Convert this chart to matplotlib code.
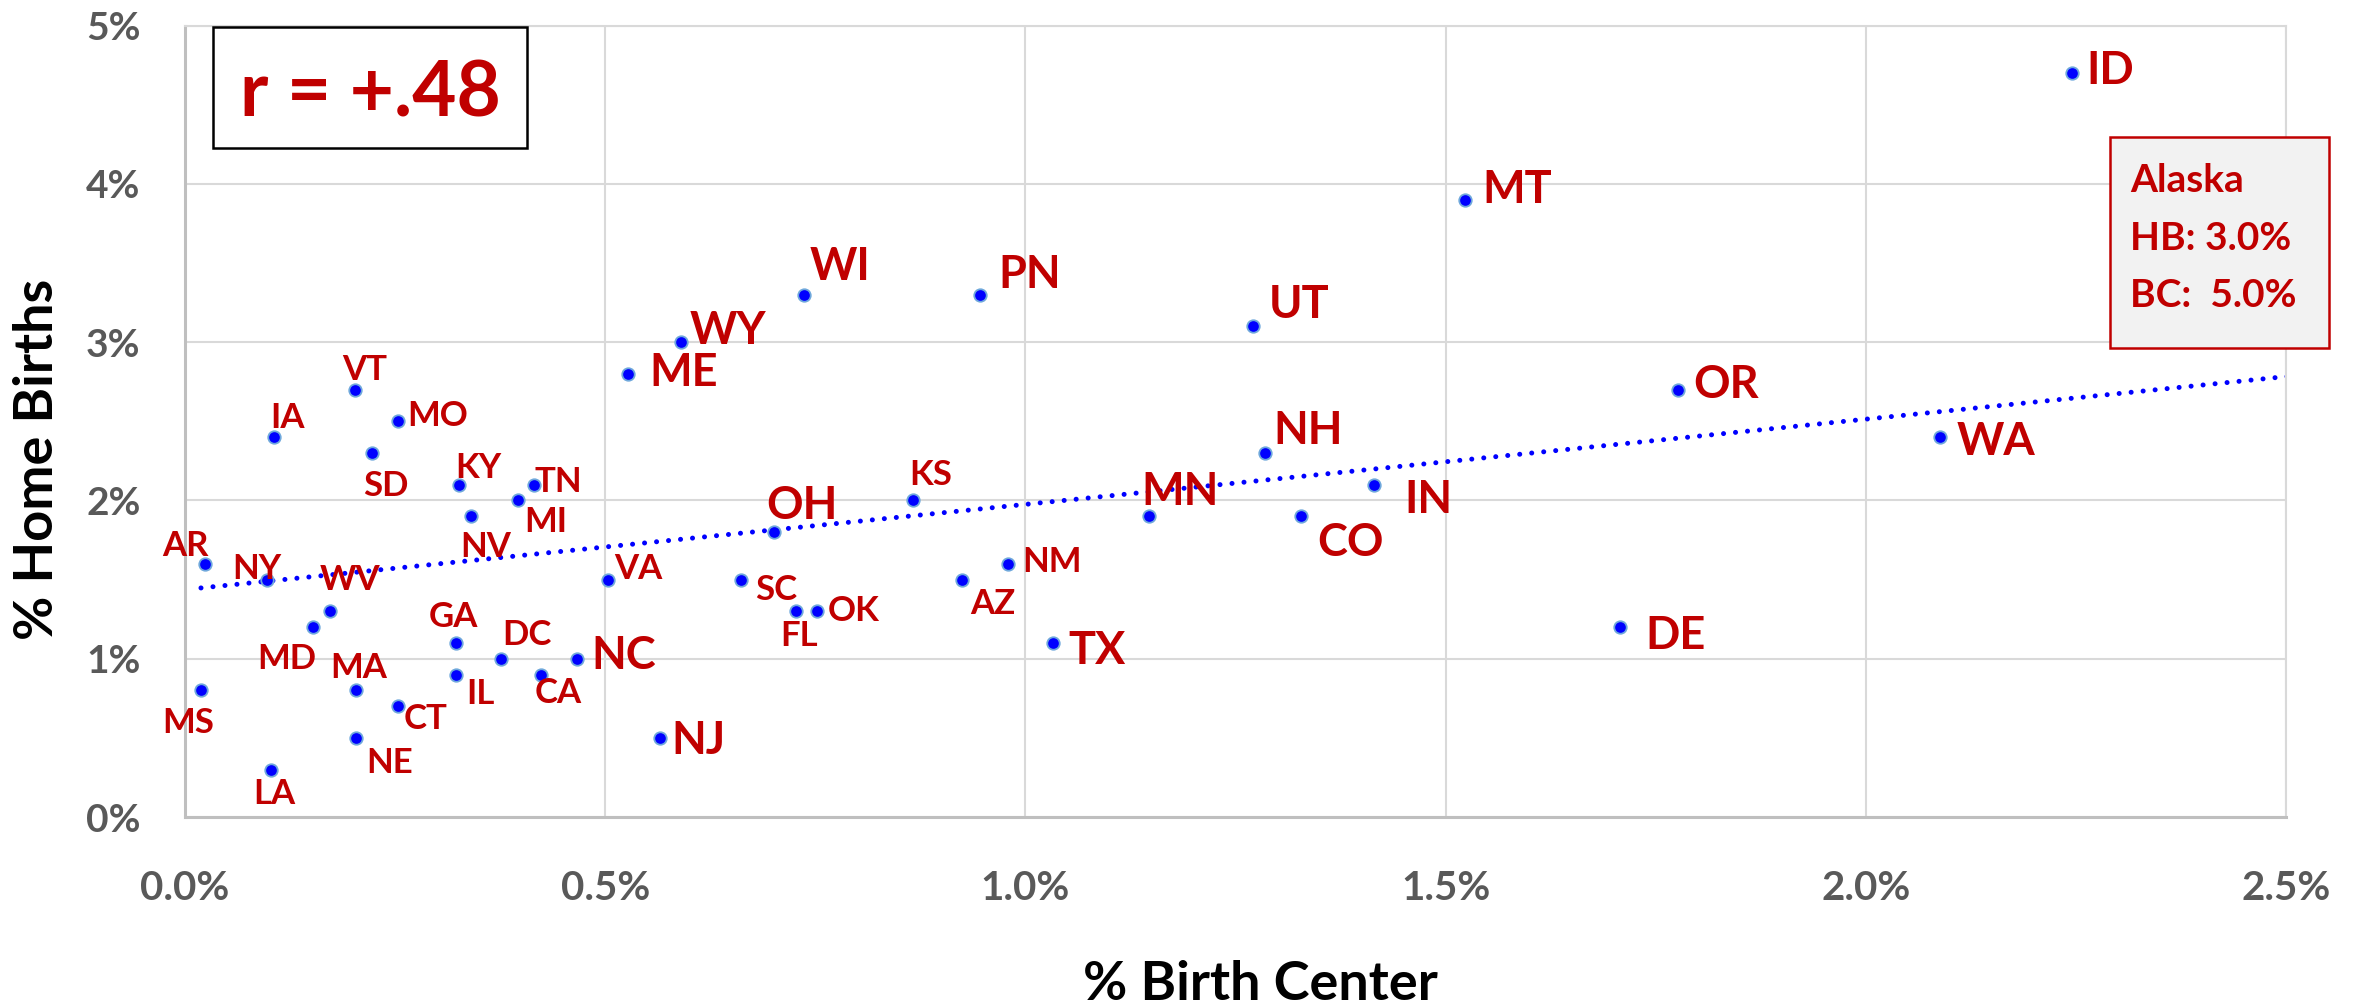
import numpy as np
import matplotlib
matplotlib.use("Agg")
import matplotlib.pyplot as plt
from matplotlib.patches import Rectangle

plt.rcParams['font.family'] = ['Lato', 'DejaVu Sans']

# ---------------- data ----------------
states = ["VT", "IA", "MO", "SD", "KY", "TN", "MI", "NV", "AR", "NY",
          "WV", "MD", "GA", "DC", "NC", "CA", "IL", "MA", "MS", "CT",
          "NE", "LA", "VA", "ME", "NJ", "WI", "PN", "UT", "WY", "OH",
          "KS", "MN", "NH", "CO", "IN", "NM", "AZ", "SC", "FL", "OK",
          "TX", "MT", "OR", "WA", "DE", "ID", "AK"]
birth_center = [0.202, 0.106, 0.254, 0.223, 0.326, 0.415, 0.396, 0.340, 0.024, 0.097,
                0.173, 0.152, 0.322, 0.376, 0.466, 0.424, 0.322, 0.203, 0.019, 0.254,
                0.204, 0.102, 0.503, 0.527, 0.565, 0.736, 0.946, 1.271, 0.590, 0.701,
                0.866, 1.147, 1.285, 1.328, 1.415, 0.979, 0.925, 0.661, 0.727, 0.752,
                1.033, 1.523, 1.776, 2.088, 1.708, 2.245, 5.0]
home_births = [2.7, 2.4, 2.5, 2.3, 2.1, 2.1, 2.0, 1.9, 1.6, 1.5,
               1.3, 1.2, 1.1, 1.0, 1.0, 0.9, 0.9, 0.8, 0.8, 0.7,
               0.5, 0.3, 1.5, 2.8, 0.5, 3.3, 3.3, 3.1, 3.0, 1.8,
               2.0, 1.9, 2.3, 1.9, 2.1, 1.6, 1.5, 1.5, 1.3, 1.3,
               1.1, 3.9, 2.7, 2.4, 1.2, 4.7, 3.0]
x_ticks = [0.0, 0.5, 1.0, 1.5, 2.0, 2.5]
y_ticks = [0, 1, 2, 3, 4, 5]
r_text = "r = +.48"
alaska_lines = ["Alaska", "HB: 3.0%", "BC:  5.0%"]

# ---------------- label styling (pixel offsets from the marker) ----------------
big = {"ME", "WY", "WI", "PN", "UT", "MT", "ID", "OR", "WA", "NH", "MN",
       "IN", "CO", "DE", "TX", "NC", "NJ", "OH"}
offsets = {
    "VT": (-13, 10), "IA": (-4, 9), "MO": (9, -5), "SD": (-9, -43),
    "KY": (-4, 7), "TN": (1, -7), "MI": (6, -32), "NV": (-10, -41),
    "AR": (-43, 8), "NY": (-34, 1), "WV": (-11, 21), "MD": (-55, -42),
    "GA": (-27, 16), "DC": (1, 14), "NC": (15, -10), "CA": (-7, -28),
    "IL": (11, -29), "MA": (-25, 12), "MS": (-39, -43), "CT": (5, -23),
    "NE": (10, -35), "LA": (-17, -34), "VA": (6, 1), "ME": (21, -12),
    "NJ": (12, -16), "WI": (6, 15), "PN": (18, 7), "UT": (16, 8),
    "WY": (9, -2), "OH": (-8, 13), "KS": (-4, 15), "MN": (-8, 11),
    "NH": (8, 9), "CO": (16, -40), "IN": (30, -28), "NM": (14, -8),
    "AZ": (8, -34), "SC": (15, -20), "FL": (-16, -35), "OK": (11, -10),
    "TX": (15, -21), "MT": (17, -3), "OR": (16, -8), "WA": (17, -18),
    "DE": (25, -22), "ID": (15, -11),
}

W, H, DPI = 2364, 1008, 100
RED = "#C00000"
GRAY = "#595959"
px = 72.0 / DPI

fig = plt.figure(figsize=(W / DPI, H / DPI), dpi=DPI)
left, right, top, bottom = 185, 2286, 25.7, 817
ax = fig.add_axes([left / W, 1 - bottom / H, (right - left) / W, (bottom - top) / H])
ax.set_xlim(0, 2.5)
ax.set_ylim(0, 5)

ax.set_xticks(x_ticks)
ax.set_xticklabels([f"{t:.1f}%" for t in x_ticks])
ax.set_yticks(y_ticks)
ax.set_yticklabels([f"{t:d}%" for t in y_ticks])
ax.tick_params(axis='both', length=0, labelcolor=GRAY)
ax.tick_params(axis='x', pad=38, labelsize=29)
ax.tick_params(axis='y', pad=32, labelsize=28)
for lab in ax.get_xticklabels() + ax.get_yticklabels():
    lab.set_fontweight('bold')

ax.grid(True, color="#D9D9D9", lw=1.5, zorder=0)
ax.set_axisbelow(True)
for s in ["top", "right"]:
    ax.spines[s].set_color("#D9D9D9")
    ax.spines[s].set_linewidth(1.5)
for s in ["left", "bottom"]:
    ax.spines[s].set_color("#BFBFBF")
    ax.spines[s].set_linewidth(2.2)

bc = np.array(birth_center)
hb = np.array(home_births)

# trend line (least squares on all states incl. Alaska, clipped at the axis)
m, b = np.polyfit(bc, hb, 1)
xs = np.array([bc.min(), bc.max()])
ax.plot(xs, m * xs + b, color="#0000FF", lw=3.6,
        linestyle=(0, (0.01, 2.4)), dash_capstyle='round', zorder=2)

ax.scatter(bc, hb, s=(12.5 * px) ** 2, c="#0000FF", edgecolors="#6FA8DC",
           linewidths=1.3, zorder=3)

for st, x, y in zip(states, bc, hb):
    if st not in offsets:
        continue
    dx, dy = offsets[st]
    ax.annotate(st, (x, y), xytext=(dx * px, dy * px), textcoords='offset points',
                ha='left', va='baseline', color=RED, fontweight='bold',
                fontsize=32.5 if st in big else 25, zorder=4)

# axis titles
fig.text(1260 / W, 1 - 1000 / H, "% Birth Center", ha='center', va='baseline',
         fontsize=39, fontweight='bold', color='black')
fig.text(38 / W, 1 - 459 / H, "% Home Births", ha='center', va='center',
         rotation=90, fontsize=39, fontweight='bold', color='black')

# r box
fig.patches.append(Rectangle((213 / W, 1 - 148 / H), (527 - 213) / W, (148 - 27) / H,
                             transform=fig.transFigure, facecolor='white',
                             edgecolor='black', lw=1.8, zorder=5))
fig.text(370 / W, 1 - 116.7 / H, r_text, ha='center', va='baseline',
         fontsize=55, fontweight='bold', color=RED, zorder=6)

# Alaska box
fig.patches.append(Rectangle((2110 / W, 1 - 348 / H), (2329 - 2110) / W, (348 - 136.7) / H,
                             transform=fig.transFigure, facecolor='#F2F2F2',
                             edgecolor=RED, lw=1.8, zorder=5))
for line, base in zip(alaska_lines, [191.7, 250, 306.7]):
    fig.text(2130 / W, 1 - base / H, line, ha='left', va='baseline',
             fontsize=28, fontweight='bold', color=RED, zorder=6)

fig.savefig("out.png", dpi=DPI)
